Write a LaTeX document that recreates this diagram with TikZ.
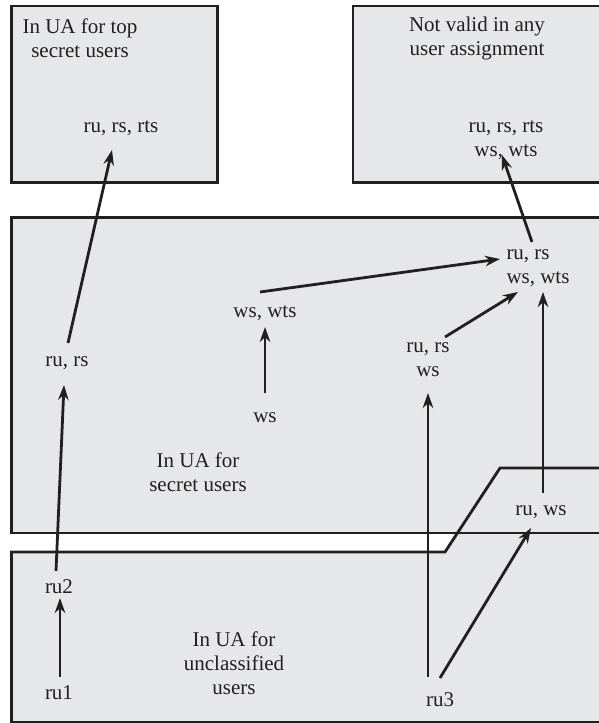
\documentclass[tikz,border=0pt]{standalone}
\usepackage{fontspec}
\setmainfont{Liberation Serif}
\usetikzlibrary{arrows.meta}
\definecolor{boxfill}{RGB}{230,231,232}
\definecolor{ink}{RGB}{35,31,32}
\tikzset{
  region/.style={draw=ink, line width=2.8pt, line join=miter},
  regionfill/.style={fill=boxfill},
  lbl/.style={font=\fontsize{21}{24}\selectfont, inner sep=0pt, align=center, text=ink},
  arr/.style={draw=ink, line width=2.8pt, -{Stealth[length=15pt,width=10.5pt]}}
}
\begin{document}
\begin{tikzpicture}[x=1pt,y=-1pt]
\useasboundingbox (0,0) rectangle (599,723);
\clip (0,0) rectangle (599,723);
% region fills
\fill[regionfill] (11.5,6) rectangle (217.5,182.5);
\fill[regionfill] (353,6) rectangle (640,182.5);
\fill[regionfill] (11.5,217.5) rectangle (640,533);
\fill[regionfill] (11.5,722.5) -- (11.5,552) -- (445,552) -- (500,468) -- (640,468) -- (640,722.5) -- cycle;
% region borders
\draw[region] (11.5,6) rectangle (217.5,182.5);
\draw[region] (353,6) rectangle (640,182.5);
\draw[region] (11.5,217.5) rectangle (640,533);
\draw[region] (11.5,722.5) -- (11.5,552) -- (445,552) -- (500,468) -- (640,468) -- (640,722.5) -- cycle;

% titles
\node[lbl] (ttop) at (80,38) {In UA for top\\secret users};
\node[lbl] (tnv) at (477,38) {Not valid in any\\user assignment};
\node[lbl] (tsec) at (198,472.5) {In UA for\\secret users};
\node[lbl] (tunc) at (234,663) {In UA for\\unclassified\\users};

% permission sets
\node[lbl] (tsr) at (121,128) {ru, rs, rts};
\node[lbl] (nv) at (506,140) {ru, rs, rts\\ws, wts};
\node[lbl] (a1) at (67,363) {ru, rs};
\node[lbl] (wswts) at (265,313) {ws, wts};
\node[lbl] (ws) at (265,418) {ws};
\node[lbl, align=left] (top4) at (538,268.5) {ru, rs\\ws, wts};
\node[lbl] (mid) at (428,360) {ru, rs\\ws};
\node[lbl] (ruws) at (541,512) {ru, ws};
\node[lbl] (ru2) at (59,587) {ru2};
\node[lbl] (ru1) at (59,693) {ru1};
\node[lbl] (ru3) at (440,700) {ru3};

% connectors
\draw[arr] ([shift={(1,-16)}]ru1.center) -- ([shift={(1,11)}]ru2.center);
\draw[arr] ([shift={(-3,-16)}]ru2.center) -- ([shift={(-3,22)}]a1.center);
\draw[arr] ([shift={(1,-20)}]a1.center) -- ([shift={(-9,22)}]tsr.center);
\draw[arr] ([shift={(0,-25)}]ws.center) -- ([shift={(0,14)}]wswts.center);
\draw[arr] ([shift={(-5,-21)}]wswts.center) -- ([shift={(-38,-9.5)}]top4.center);
\draw[arr] ([shift={(17,-23)}]mid.center) -- ([shift={(-20,23.5)}]top4.center);
\draw[arr] ([shift={(2,-19)}]ruws.center) -- ([shift={(5,23.5)}]top4.center);
\draw[arr] ([shift={(-6,-26.5)}]top4.center) -- ([shift={(-4,15)}]nv.center);
\draw[arr] ([shift={(-12,-23)}]ru3.center) -- ([shift={(0,33)}]mid.center);
\draw[arr] ([shift={(0,-22)}]ru3.center) -- ([shift={(-10,16)}]ruws.center);
\end{tikzpicture}
\end{document}
